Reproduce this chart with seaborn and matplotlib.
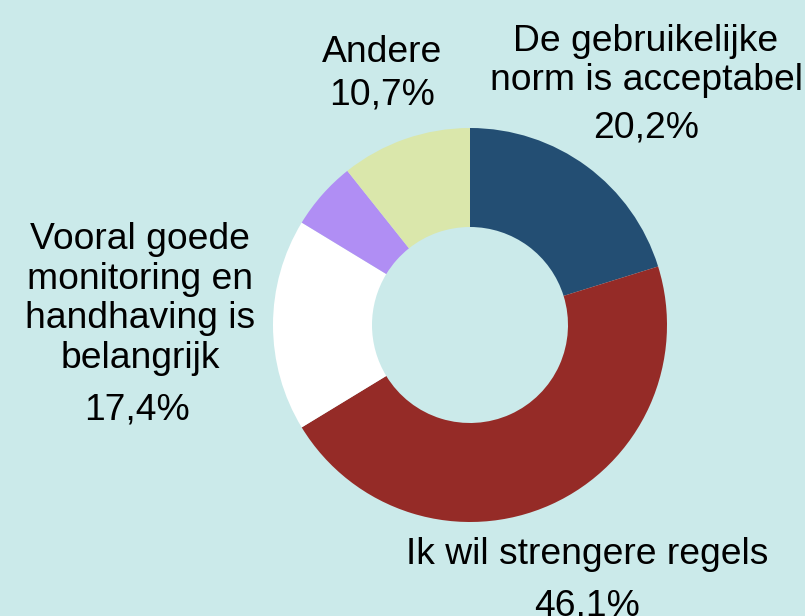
import matplotlib
matplotlib.use("Agg")
import matplotlib.pyplot as plt
import seaborn as sns

# survey answers (clockwise from 12 o'clock)
labels = ["De gebruikelijke\nnorm is acceptabel", "Ik wil strengere regels",
          "Vooral goede\nmonitoring en\nhandhaving is\nbelangrijk", "", "Andere"]
values = [20.2, 46.1, 17.4, 5.6, 10.7]
pct_text = ["20,2%", "46,1%", "17,4%", "", "10,7%"]
colors = ["#234e73", "#952b27", "#ffffff", "#b08ef4", "#dae7ab"]
bg = "#cbeaea"

sns.set_theme(style="white")
plt.rcParams["font.family"] = ["Liberation Sans", "DejaVu Sans"]

fig = plt.figure(figsize=(8.05, 6.16), dpi=100, facecolor=bg)
ax = fig.add_axes([0, 0, 1, 1])
ax.set_facecolor(bg)

cx, cy, r = 470, 616 - 325, 197
ax.pie(values, colors=colors, startangle=90, counterclock=False,
       center=(cx, cy), radius=r, frame=True,
       wedgeprops=dict(width=r - 98, linewidth=0))
ax.set_xlim(0, 805)
ax.set_ylim(0, 616)
ax.set_aspect("equal")
ax.axis("off")

# label positions (name block centre, percentage centre) in pixels from top
name_pos = [(646, 61), (587, 555), (140, 299), None, (382, 52)]
pct_pos = [(646, 128), (587, 606), (137, 410), None, (382, 95)]
fs = 26.8
for i in range(len(values)):
    if name_pos[i] is None:
        continue
    nx, ny = name_pos[i]
    px, py = pct_pos[i]
    ax.text(nx, 616 - ny, labels[i], ha="center", va="center",
            fontsize=fs, linespacing=1.18, color="black")
    ax.text(px, 616 - py, pct_text[i], ha="center", va="center",
            fontsize=fs, color="black")

fig.savefig("out.png", dpi=100, facecolor=bg)
